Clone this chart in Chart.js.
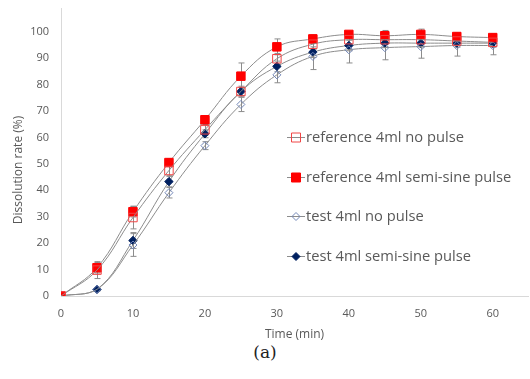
<!DOCTYPE html>
<html>
<head>
<meta charset="utf-8">
<script src="https://cdn.jsdelivr.net/npm/chart.js@4"></script>
<style>
  body { margin: 0; background: #fff; }
  #wrap { position: relative; width: 530px; height: 379px; }
  #legend { position: absolute; left: 287px; top: 126px; font-family: "Open Sans", sans-serif; font-size: 14.7px; color: #595959; }
  .item { height: 39.5px; display: flex; align-items: flex-start; }
  .item canvas { margin-top: 3px; margin-right: 1px; }
  #cap { position: absolute; left: 0; width: 530px; top: 342px; text-align: center; font-family: "DejaVu Serif", serif; font-size: 17px; color: #222; }
</style>
</head>
<body>
<div id="wrap">
  <canvas id="chart" width="530" height="342"></canvas>
  <div id="legend"></div>
  <div id="cap">(a)</div>
</div>
<script>
// Thời gian lấy mẫu (phút)
const times = [0, 5, 10, 15, 20, 25, 30, 35, 40, 45, 50, 55, 60];

// Giá trị trung bình + độ lệch chuẩn của từng dãy
const refNoPulse = [0, 9.8, 29.7, 47.5, 62.9, 77.4, 89.8, 95.3, 97, 97, 97, 96.5, 96];
const refNoPulseSd = [0, 3.2, 4.3, 2, 2, 1.5, 2, 2, 1.5, 1.5, 1.5, 1.5, 1.5];
const refSine = [0, 10.7, 31.9, 50.5, 66.7, 83.2, 94.3, 97.3, 99, 98.5, 99, 98.2, 97.8];
const refSineSd = [0, 2, 2, 1.5, 1.5, 5, 3, 1.5, 1, 2, 2, 1.5, 1.5];
const testNoPulse = [0, 2.5, 19.3, 39.1, 56.9, 72.5, 83.7, 90.7, 93.2, 94, 94.4, 94.8, 94.8];
const testNoPulseSd = [0, 0.5, 4.3, 2, 1.5, 2.7, 3, 5, 5, 4.6, 4.4, 4, 3.5];
const testSine = [0, 2.5, 21, 43.3, 61.4, 77.4, 86.9, 92.3, 94.8, 95.7, 95.7, 95.7, 95.7];
const testSineSd = [0, 0.5, 3, 2, 1.5, 2, 2, 2, 2, 1.5, 1.5, 1.5, 1.5];

const labels = ["reference 4ml no pulse", "reference 4ml semi-sine pulse", "test 4ml no pulse", "test 4ml semi-sine pulse"];
const xTicks = [0, 10, 20, 30, 40, 50, 60];
const yTicks = [0, 10, 20, 30, 40, 50, 60, 70, 80, 90, 100];
const yTitle = "Dissolution rate (%)";

const toPts = (ys) => times.map((t, i) => ({ x: t, y: ys[i] }));

const styles = [
  { pointStyle: "rect", radius: 6, bg: "rgba(255,255,255,0)", border: "rgb(240,70,70)", bw: 1 },
  { pointStyle: "rect", radius: 6, bg: "#ff0000", border: "#ff0000", bw: 1 },
  { pointStyle: "rectRot", radius: 4, bg: "rgba(255,255,255,0)", border: "#7488b8", bw: 1 },
  { pointStyle: "rectRot", radius: 4.2, bg: "#002060", border: "#002060", bw: 1 },
];
const series = [refNoPulse, refSine, testNoPulse, testSine];
const sds = [refNoPulseSd, refSineSd, testNoPulseSd, testSineSd];

const datasets = series.map((ys, k) => ({
  label: labels[k],
  data: toPts(ys),
  sd: sds[k],
  showLine: true,
  borderColor: "#8c8c8c",
  borderWidth: 1,
  tension: 0.4,
  pointStyle: styles[k].pointStyle,
  pointRadius: styles[k].radius,
  pointBackgroundColor: styles[k].bg,
  pointBorderColor: styles[k].border,
  pointBorderWidth: styles[k].bw,
}));

// Vẽ thanh sai số bằng trục của chart
const errorBars = {
  id: "errorBars",
  beforeDatasetsDraw(chart) {
    const ctx = chart.ctx;
    const xs = chart.scales.x, ys = chart.scales.y;
    ctx.save();
    ctx.strokeStyle = "#8c8c8c";
    ctx.lineWidth = 1;
    chart.data.datasets.forEach((ds) => {
      ds.data.forEach((p, i) => {
        const e = ds.sd[i];
        if (!e) return;
        const px = Math.round(xs.getPixelForValue(p.x)) + 0.5;
        const top = ys.getPixelForValue(p.y + e);
        const bot = ys.getPixelForValue(p.y - e);
        ctx.beginPath();
        ctx.moveTo(px, top); ctx.lineTo(px, bot);
        ctx.moveTo(px - 3, top); ctx.lineTo(px + 3, top);
        ctx.moveTo(px - 3, bot); ctx.lineTo(px + 3, bot);
        ctx.stroke();
      });
    });
    ctx.restore();
  },
};

// Tiêu đề trục y (hơi lệch xuống giống bản gốc)
const yTitlePlugin = {
  id: "yTitle",
  afterDraw(chart) {
    const ctx = chart.ctx;
    ctx.save();
    ctx.translate(19, 170);
    ctx.rotate(-Math.PI / 2);
    ctx.font = "12px 'Open Sans', sans-serif";
    ctx.fillStyle = "#595959";
    ctx.textAlign = "center";
    ctx.textBaseline = "middle";
    ctx.fillText(yTitle, 0, 0);
    ctx.restore();
  },
};

const font = { family: "'Open Sans', sans-serif", size: 11 };

new Chart(document.getElementById("chart"), {
  type: "scatter",
  data: { datasets: datasets },
  plugins: [errorBars, yTitlePlugin],
  options: {
    responsive: false,
    animation: false,
    layout: { autoPadding: false, padding: { top: 8, right: 2, left: 0, bottom: 0 } },
    plugins: { legend: { display: false }, tooltip: { enabled: false } },
    scales: {
      x: {
        type: "linear",
        min: 0,
        max: 64.9,
        afterBuildTicks: (s) => { s.ticks = xTicks.map((v) => ({ value: v })); },
        afterFit: (s) => { s.height = 46; s.paddingLeft = 0; s.paddingRight = 0; },
        grid: { display: false, drawTicks: false },
        border: { color: "#d9d9d9" },
        ticks: { color: "#595959", font: font, padding: 11 },
        title: { display: true, text: "Time (min)", color: "#595959", font: { family: "'Open Sans', sans-serif", size: 12 }, padding: { top: 4, bottom: 0 } },
      },
      y: {
        min: 0,
        max: 109,
        afterBuildTicks: (s) => { s.ticks = yTicks.map((v) => ({ value: v })); },
        afterFit: (s) => { s.width = 61; s.paddingTop = 0; s.paddingBottom = 0; },
        grid: { display: false, drawTicks: false },
        border: { color: "#d9d9d9" },
        ticks: { color: "#595959", font: font, padding: 12 },
        title: { display: false, text: yTitle },
      },
    },
  },
});

// Chú thích tự vẽ bên trong vùng biểu đồ
const legendBox = document.getElementById("legend");
labels.forEach((txt, k) => {
  const row = document.createElement("div");
  row.className = "item";
  const c = document.createElement("canvas");
  c.width = 18; c.height = 16;
  const g = c.getContext("2d");
  g.strokeStyle = "#8c8c8c"; g.lineWidth = 1;
  g.beginPath(); g.moveTo(0, 8.5); g.lineTo(18, 8.5); g.stroke();
  g.fillStyle = styles[k].bg; g.strokeStyle = styles[k].border;
  g.beginPath();
  if (styles[k].pointStyle === "rect") {
    g.rect(4.5, 4, 9, 9);
  } else {
    g.moveTo(9, 4.5); g.lineTo(13, 8.5); g.lineTo(9, 12.5); g.lineTo(5, 8.5); g.closePath();
  }
  g.fill(); g.stroke();
  row.appendChild(c);
  const s = document.createElement("span");
  s.textContent = txt;
  row.appendChild(s);
  legendBox.appendChild(row);
});
</script>
</body>
</html>
